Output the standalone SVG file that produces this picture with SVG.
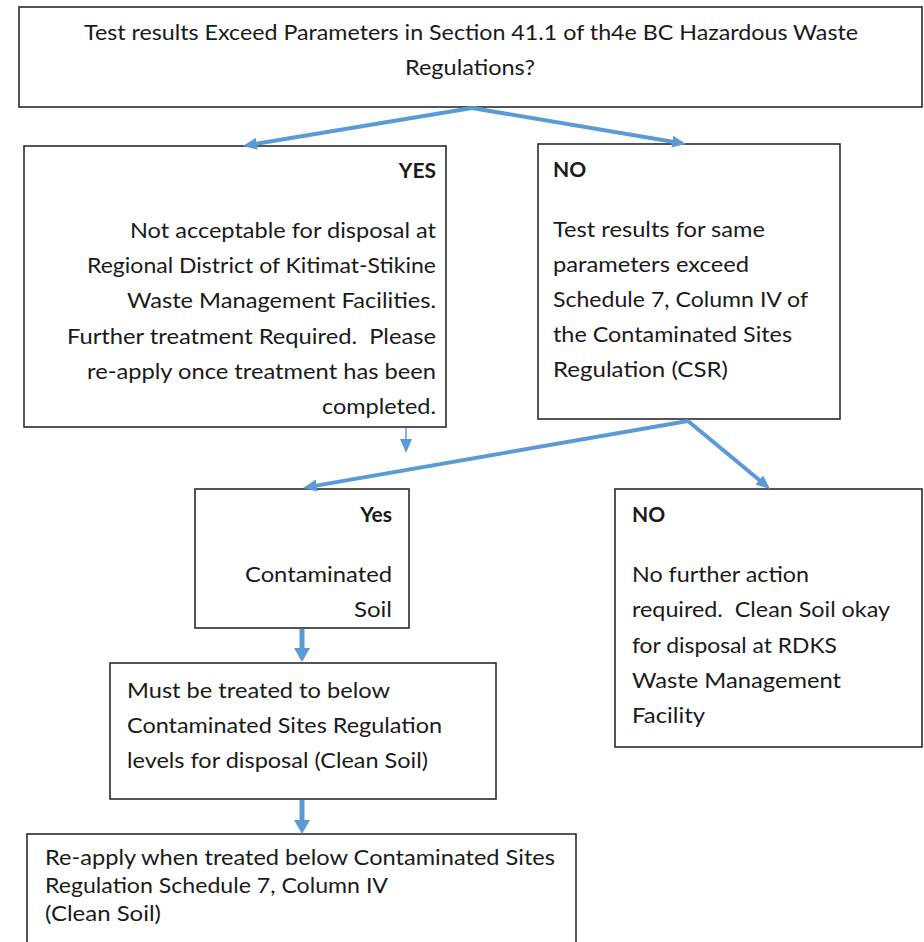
<svg xmlns="http://www.w3.org/2000/svg" width="924" height="942" viewBox="0 0 924 942">
<style>
.box{fill:#fff;stroke:#2b2b2b;stroke-width:1.6}
.t{font-family:Lato,"Open Sans","Liberation Sans",sans-serif;font-size:21px;fill:#1a1a1a}
.b{font-weight:bold}
.r{text-anchor:end}
.m{text-anchor:middle}
.c{stroke:#5B9BD5;fill:none;stroke-linecap:butt}
</style>
<defs>
<marker id="h" viewBox="0 0 14 12" markerWidth="14" markerHeight="12" refX="2" refY="6" orient="auto" markerUnits="userSpaceOnUse"><path d="M0,0 L14,6 L0,12 z" fill="#5B9BD5"/></marker>
<marker id="hw" viewBox="0 0 14 16" markerWidth="14" markerHeight="16" refX="2" refY="8" orient="auto" markerUnits="userSpaceOnUse"><path d="M0,0 L14,8 L0,16 z" fill="#5B9BD5"/></marker>
</defs>
<rect width="924" height="942" fill="#fff"/>
<g id="top">
<rect class="box" x="19" y="7" width="903" height="100"/>
<text class="t m" x="471" y="40" textLength="774" lengthAdjust="spacingAndGlyphs">Test results Exceed Parameters in Section 41.1 of th4e BC Hazardous Waste</text>
<text class="t m" x="470" y="75" textLength="130" lengthAdjust="spacingAndGlyphs">Regulations?</text>
</g>
<g id="yes1">
<rect class="box" x="24" y="146" width="422" height="281"/>
<text class="t b r" x="436" y="178">YES</text>
<text class="t r" x="436" y="238" textLength="306" lengthAdjust="spacingAndGlyphs">Not acceptable for disposal at</text>
<text class="t r" x="436" y="273" textLength="349" lengthAdjust="spacingAndGlyphs">Regional District of Kitimat-Stikine</text>
<text class="t r" x="436" y="308" textLength="309" lengthAdjust="spacingAndGlyphs">Waste Management Facilities.</text>
<text class="t r" x="436" y="344" textLength="369" lengthAdjust="spacingAndGlyphs" xml:space="preserve">Further treatment Required.  Please</text>
<text class="t r" x="436" y="379" textLength="349" lengthAdjust="spacingAndGlyphs">re-apply once treatment has been</text>
<text class="t r" x="436" y="414" textLength="114" lengthAdjust="spacingAndGlyphs">completed.</text>
</g>
<g id="no1">
<rect class="box" x="538" y="144" width="302" height="275"/>
<text class="t b" x="553" y="177">NO</text>
<text class="t" x="553" y="237" textLength="212" lengthAdjust="spacingAndGlyphs">Test results for same</text>
<text class="t" x="553" y="272" textLength="196" lengthAdjust="spacingAndGlyphs">parameters exceed</text>
<text class="t" x="553" y="307" textLength="255" lengthAdjust="spacingAndGlyphs">Schedule 7, Column IV of</text>
<text class="t" x="553" y="342" textLength="239" lengthAdjust="spacingAndGlyphs">the Contaminated Sites</text>
<text class="t" x="553" y="377" textLength="175" lengthAdjust="spacingAndGlyphs">Regulation (CSR)</text>
</g>
<g id="yes2">
<rect class="box" x="195" y="489" width="214" height="139"/>
<text class="t b r" x="392" y="522">Yes</text>
<text class="t r" x="392" y="582" textLength="147" lengthAdjust="spacingAndGlyphs">Contaminated</text>
<text class="t r" x="392" y="617" textLength="38" lengthAdjust="spacingAndGlyphs">Soil</text>
</g>
<g id="no2">
<rect class="box" x="615" y="489" width="307" height="258"/>
<text class="t b" x="632" y="522">NO</text>
<text class="t" x="632" y="582" textLength="177" lengthAdjust="spacingAndGlyphs">No further action</text>
<text class="t" x="632" y="617" textLength="258" lengthAdjust="spacingAndGlyphs" xml:space="preserve">required.  Clean Soil okay</text>
<text class="t" x="632" y="653" textLength="205" lengthAdjust="spacingAndGlyphs">for disposal at RDKS</text>
<text class="t" x="632" y="688" textLength="209" lengthAdjust="spacingAndGlyphs">Waste Management</text>
<text class="t" x="632" y="723" textLength="73" lengthAdjust="spacingAndGlyphs">Facility</text>
</g>
<g id="treat">
<rect class="box" x="110" y="663" width="386" height="136"/>
<text class="t" x="127" y="698" textLength="263" lengthAdjust="spacingAndGlyphs">Must be treated to below</text>
<text class="t" x="127" y="733" textLength="315" lengthAdjust="spacingAndGlyphs">Contaminated Sites Regulation</text>
<text class="t" x="127" y="768" textLength="301" lengthAdjust="spacingAndGlyphs">levels for disposal (Clean Soil)</text>
</g>
<g id="reapply">
<rect class="box" x="27" y="834" width="549" height="120"/>
<text class="t" x="45" y="865" textLength="510" lengthAdjust="spacingAndGlyphs">Re-apply when treated below Contaminated Sites</text>
<text class="t" x="45" y="893" textLength="343" lengthAdjust="spacingAndGlyphs">Regulation Schedule 7, Column IV</text>
<text class="t" x="45" y="921" textLength="116" lengthAdjust="spacingAndGlyphs">(Clean Soil)</text>
</g>
<g id="connectors">
<line class="c" x1="472" y1="108" x2="254.8" y2="144" stroke-width="4" marker-end="url(#h)"/>
<line class="c" x1="472" y1="108" x2="674.2" y2="142" stroke-width="4" marker-end="url(#h)"/>
<line class="c" x1="406" y1="428" x2="406" y2="441" stroke-width="1.5" marker-end="url(#h)"/>
<line class="c" x1="688" y1="421" x2="314.8" y2="485.9" stroke-width="4" marker-end="url(#h)"/>
<line class="c" x1="688" y1="421" x2="760.8" y2="481.3" stroke-width="4" marker-end="url(#h)"/>
<line class="c" x1="302" y1="629" x2="302" y2="650" stroke-width="5" marker-end="url(#hw)"/>
<line class="c" x1="302" y1="800" x2="302" y2="822" stroke-width="5" marker-end="url(#hw)"/>
</g>
</svg>
